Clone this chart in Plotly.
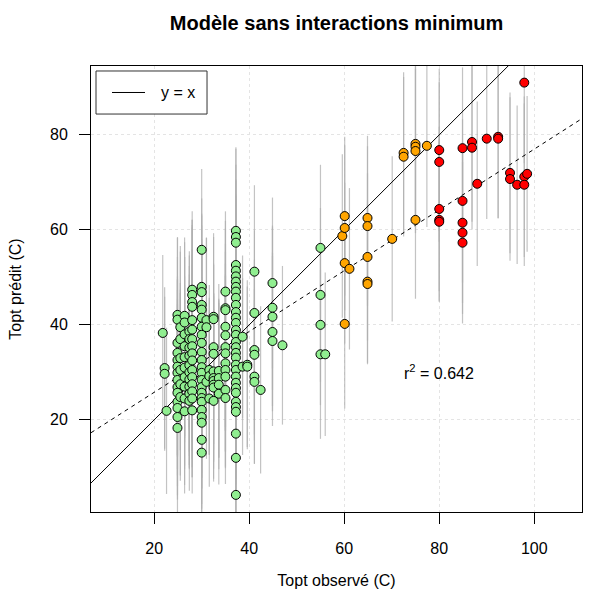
import plotly.graph_objects as go

# Observed vs predicted optimal temperature (Topt), three groups of strains,
# each prediction with its half-width of the prediction interval.
green_obs = [
    21.8,
    22.2, 22.2,
    22.6,
    24.9, 24.9, 24.9, 24.9, 24.9, 24.9, 24.9, 24.9, 24.9, 24.9, 24.9, 24.9, 24.9, 24.9,
    25.5, 25.5, 25.5, 25.5, 25.5, 25.5,
    26.4, 26.4, 26.4, 26.4, 26.4, 26.4, 26.4, 26.4, 26.4, 26.4,
    27.4, 27.4, 27.4, 27.4, 27.4, 27.4, 27.4, 27.4, 27.4, 27.4,
    28.0, 28.0, 28.0, 28.0, 28.0, 28.0, 28.0, 28.0, 28.0, 28.0, 28.0, 28.0, 28.0, 28.0, 28.0, 28.0,
    30.0, 30.0, 30.0, 30.0, 30.0, 30.0, 30.0, 30.0, 30.0, 30.0, 30.0, 30.0,
    30.0, 30.0, 30.0, 30.0, 30.0, 30.0, 30.0, 30.0, 30.0, 30.0, 30.0,
    31.0, 31.0, 31.0,
    31.6, 31.6, 31.6,
    32.5, 32.5, 32.5, 32.5, 32.5, 32.5, 32.5, 32.5, 32.5, 32.5,
    33.6, 33.6, 33.6, 33.6,
    35.0, 35.0, 35.0, 35.0, 35.0, 35.0, 35.0, 35.0, 35.0, 35.0, 35.0, 35.0,
    37.2, 37.2, 37.2, 37.2, 37.2, 37.2, 37.2, 37.2, 37.2, 37.2, 37.2, 37.2, 37.2, 37.2, 37.2, 37.2,
    37.2, 37.2, 37.2, 37.2, 37.2, 37.2, 37.2, 37.2, 37.2, 37.2, 37.2, 37.2, 37.2, 37.2, 37.2, 37.2,
    38.6, 38.6,
    39.6, 39.6,
    41.1, 41.1, 41.1, 41.1, 41.1, 41.1,
    42.4,
    44.9, 44.9, 44.9, 44.9, 44.9,
    47.0,
    55.0, 55.0, 55.0, 55.0,
    56.0,
]
green_pred = [
    38.3,
    30.9, 29.7,
    21.9,
    42.1, 41.1, 36.2, 34.1, 32.6, 31.2, 29.9, 28.4, 26.9, 25.7, 23.8, 22.5, 20.6, 18.3,
    39.5, 37.0, 33.0, 30.5, 27.5, 24.8,
    41.9, 40.5, 38.0, 35.5, 33.2, 31.0, 29.0, 27.0, 24.5, 21.8,
    38.6, 37.0, 35.2, 33.5, 31.5, 30.0, 28.5, 27.0, 25.5, 24.0,
    47.4, 46.3, 44.8, 43.8, 41.0, 39.0, 37.0, 35.5, 34.0, 32.5, 30.5, 29.0, 27.5, 26.0, 24.5, 22.0,
    55.8, 48.0, 46.9, 44.2, 43.2, 41.5, 39.6, 37.9, 36.2, 34.3, 32.6, 31.1,
    29.9, 28.4, 26.9, 25.7, 24.6, 23.8, 22.1, 20.6, 19.4, 15.8, 13.1,
    41.0, 39.5, 28.0,
    30.5, 29.2, 24.5,
    41.7, 41.2, 35.3, 33.9, 30.2, 28.8, 28.2, 27.4, 26.8, 24.0,
    30.3, 28.8, 27.4, 25.5,
    47.0, 43.5, 43.1, 39.6, 37.8, 35.3, 34.0, 31.9, 30.5, 29.1, 26.3, 24.6,
    59.8, 58.5, 57.3, 52.6, 51.4, 50.2, 49.1, 48.0, 47.0, 45.7, 44.2, 42.7, 41.5, 40.4, 38.9, 37.9,
    36.4, 35.3, 34.1, 33.1, 31.6, 30.5, 29.1, 27.8, 26.7, 25.7, 23.8, 22.7, 21.7, 17.1, 12.0, 4.2,
    37.5, 31.2,
    31.6, 31.2,
    51.2, 42.5, 34.7, 33.7, 29.1, 28.0,
    26.3,
    48.8, 43.6, 41.7, 38.5, 36.6,
    35.7,
    56.2, 46.3, 40.0, 33.8,
    33.8,
]
green_err = [
    16.4,
    17.0, 16.2,
    17.5,
    16.4, 17.2, 18.1, 15.6, 16.8, 19.0, 17.4, 15.9, 18.6, 16.1, 17.8, 19.3, 16.5, 18.0,
    17.1, 18.4, 15.8, 16.9, 19.2, 17.6,
    15.5, 17.9, 16.3, 18.8, 17.0, 15.7, 19.4, 16.6, 18.2, 17.3,
    16.0, 18.5, 17.2, 15.9, 19.1, 16.7, 18.0, 17.4, 15.6, 18.9,
    14.8, 17.6, 16.2, 18.3, 19.5, 16.9, 17.8, 15.4, 18.7, 16.4, 17.1, 19.0, 15.8, 18.1, 16.6, 17.5,
    17.0, 18.6, 16.1, 19.2, 17.7, 15.9, 18.4, 16.8, 19.4, 17.2, 16.0, 18.9,
    17.5, 16.3, 19.1, 17.9, 15.7, 18.2, 16.6, 19.3, 17.1, 18.0, 16.9,
    17.4, 18.8, 16.2,
    17.9, 16.5, 18.6,
    16.8, 18.1, 17.3, 19.0, 16.4, 17.7, 18.5, 15.9, 19.2, 17.0,
    18.3, 16.7, 17.8, 19.1,
    16.9, 18.4, 17.2, 15.8, 19.3, 17.6, 16.3, 18.7, 17.0, 19.0, 16.5, 18.1,
    17.3, 18.9, 16.4, 17.8, 19.2, 16.9, 18.3, 17.1, 19.4, 16.6, 18.0, 17.5, 15.9, 18.8, 17.2, 19.1,
    16.7, 18.4, 17.6, 19.3, 16.2, 18.6, 17.0, 19.0, 16.8, 18.2, 17.4, 19.2, 16.5, 18.7, 17.9, 18.5,
    17.1, 18.6,
    17.8, 16.9,
    18.2, 17.4, 19.0, 16.8, 18.4, 17.2,
    17.6,
    18.0, 17.3, 18.8, 16.7, 17.9,
    16.7,
    17.5, 18.3, 16.9, 17.8,
    17.2,
]

orange_obs = [59.6, 60.1, 60.1, 60.1, 60.1, 61.1, 64.9, 64.9, 64.9, 64.9, 64.9,
              70.1, 72.5, 72.5, 75.0, 75.0, 75.0, 75.0, 77.4]
orange_pred = [58.7, 62.9, 60.4, 53.0, 40.2, 51.8, 62.5, 60.8, 54.3, 49.1, 48.6,
               58.1, 76.2, 75.4, 78.1, 77.5, 76.6, 62.1, 77.7]
orange_err = [17.2, 16.7, 17.4, 16.9, 17.8, 17.0, 17.3, 16.8, 17.6, 17.1, 16.9,
              17.4, 17.0, 16.8, 17.2, 16.9, 17.3, 16.6, 17.1]

red_obs = [80.0, 80.0, 80.0, 80.0, 80.0, 84.9, 84.9, 84.9, 84.9, 84.9, 86.9, 86.9,
           88.0, 90.0, 92.4, 92.4, 94.9, 94.9, 96.4, 97.9, 97.9, 97.9, 98.5]
red_pred = [76.8, 74.3, 64.4, 62.1, 61.7, 77.2, 66.1, 61.5, 59.4, 57.3, 78.5, 77.3,
            69.7, 79.2, 79.6, 79.2, 72.0, 70.7, 69.5, 91.0, 71.2, 69.5, 71.8]
red_err = [17.1, 16.8, 17.3, 17.0, 16.9, 17.0, 17.2, 16.9, 17.1, 17.0, 16.8, 17.2,
           17.3, 16.9, 17.1, 16.8, 16.9, 17.2, 16.7, 17.0, 16.9, 17.1, 16.4]

# Regression of predicted on observed, and its coefficient of determination
fit_intercept = 13.0
fit_slope = 0.64
r_squared = 0.642

x_range = [6.7, 110.05]
y_range = [0.6, 94.5]
ticks_x = [20, 40, 60, 80, 100]
ticks_y = [20, 40, 60, 80]

groups = [
    (green_obs, green_pred, green_err, "#90EE90"),
    (orange_obs, orange_pred, orange_err, "#FFA500"),
    (red_obs, red_pred, red_err, "#FF0000"),
]

FONT = "Liberation Sans, Arial, Helvetica, sans-serif"
TXT = dict(family=FONT, size=16, color="black")

fig = go.Figure()

# Vertical prediction intervals
bx, by = [], []
for obs, pred, err, _ in groups:
    for xo, yp, e in zip(obs, pred, err):
        bx += [xo, xo, None]
        by += [yp - e, yp + e, None]
fig.add_trace(go.Scatter(x=bx, y=by, mode="lines",
                         line=dict(color="rgba(175,175,175,0.75)", width=1.2),
                         hoverinfo="skip", showlegend=False))

# y = x reference and fitted regression line
fig.add_trace(go.Scatter(x=x_range, y=x_range, mode="lines",
                         line=dict(color="black", width=1), showlegend=False))
fig.add_trace(go.Scatter(x=x_range,
                         y=[fit_intercept + fit_slope * v for v in x_range],
                         mode="lines",
                         line=dict(color="black", width=1, dash="4px,4px"),
                         showlegend=False))

# Points
for obs, pred, err, color in groups:
    fig.add_trace(go.Scatter(x=obs, y=pred, mode="markers",
                             marker=dict(size=9, color=color,
                                         line=dict(color="black", width=1)),
                             showlegend=False))

# Legend box drawn in paper coordinates
fig.add_shape(type="rect", xref="paper", yref="paper",
              x0=0.0102, x1=0.2363, y0=0.8923, y1=0.9888,
              line=dict(color="#333333", width=1), fillcolor="white", layer="above")
fig.add_shape(type="line", xref="paper", yref="paper",
              x0=0.0428, x1=0.1100, y0=0.9406, y1=0.9406,
              line=dict(color="black", width=1), layer="above")
fig.add_annotation(xref="paper", yref="paper", x=0.1385, y=0.9406,
                   text="y = x", showarrow=False, xanchor="left", yanchor="middle",
                   font=TXT)

fig.add_annotation(x=80, y=30, text=f"r<sup>2</sup> = {r_squared:.3f}",
                   showarrow=False, xanchor="center", yanchor="middle", font=TXT)

axis_common = dict(showline=True, linecolor="black", linewidth=1, mirror=True,
                   ticks="outside", ticklen=11, tickcolor="black", tickwidth=1,
                   showgrid=True, gridcolor="#E4E4E4", griddash="dot", gridwidth=1,
                   zeroline=False, tickfont=TXT)

fig.update_layout(
    width=597, height=597,
    margin=dict(l=91, r=15, t=66, b=85),
    paper_bgcolor="white", plot_bgcolor="white",
    title=dict(text="<b>Modèle sans interactions minimum</b>",
               x=0.5637, xanchor="center", y=0.9615, yanchor="middle",
               font=dict(family=FONT, size=20, color="black")),
    xaxis=dict(range=x_range, tickvals=ticks_x, ticklabelstandoff=11, **axis_common,
               title=dict(text="Topt observé (C)", standoff=18, font=TXT)),
    yaxis=dict(range=y_range, tickvals=ticks_y, ticklabelstandoff=8, **axis_common,
               title=dict(text="Topt prédit (C)", standoff=24, font=TXT)),
)

fig.write_html("out.html")
